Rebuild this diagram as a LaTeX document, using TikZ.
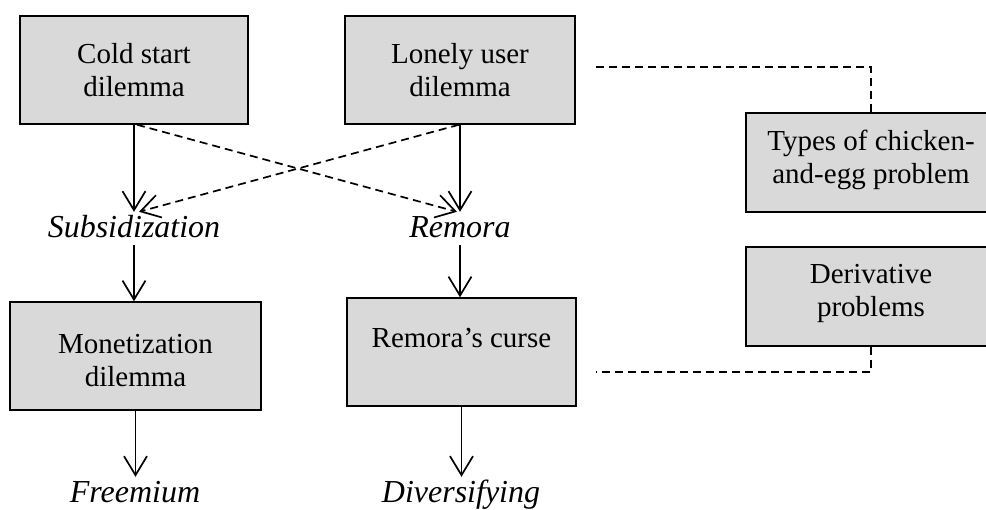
\documentclass[tikz,border=0pt]{standalone}
\usepackage{fontspec}
\setmainfont{Liberation Serif}
\usetikzlibrary{arrows.meta,calc}
\definecolor{boxgray}{HTML}{D9D9D9}
\tikzset{
  box/.style={draw=black, fill=boxgray, line width=1.5pt, inner sep=0pt, align=center,
    font=\fontsize{29}{32.5}\selectfont},
  boxtext/.style={inner sep=0pt, align=center, font=\fontsize{29}{32.5}\selectfont},
  lbl/.style={inner sep=0pt, anchor=base, text height=26pt, text depth=7pt,
    font=\fontsize{32}{38}\selectfont\itshape},
  arr/.style={line width=1.7pt, -{Straight Barb[length=19pt,width=23pt,line width=1.7pt]}},
  dashln/.style={line width=1.7pt, dash pattern=on 8pt off 5pt},
}
\begin{document}
\begin{tikzpicture}[x=1pt,y=-1pt]
\useasboundingbox (0,0) rectangle (986,510);
% boxes
\node[box, minimum width=228pt, minimum height=108pt] (cold) at (134,70) {Cold start\\dilemma};
\node[box, minimum width=230pt, minimum height=108pt] (lonely) at (460,70) {Lonely user\\dilemma};
\node[box, minimum width=251pt, minimum height=108pt] (money) at (135.5,356) {};
\node[boxtext] (moneyt) at ([yshift=-4.5pt]money.center) {Monetization\\dilemma};
\node[box, minimum width=229pt, minimum height=108pt] (curse) at (461.5,352) {};
\node[boxtext, anchor=base] (curset) at ([yshift=4pt]curse.center) {Remora’s curse};
\node[box, minimum width=250pt, minimum height=99pt] (types) at (871,162.5) {};
\node[boxtext] (typest) at ([yshift=2.5pt]types.center) {Types of chicken-\\and-egg problem};
\node[box, minimum width=250pt, minimum height=99pt] (deriv) at (871,296.5) {};
\node[boxtext] (derivt) at ([yshift=3pt]deriv.center) {Derivative\\problems};
% labels
\node[lbl] (subs) at (134,238) {Subsidization};
\node[lbl] (remora) at (460,238) {Remora};
\node[lbl] (free) at (135,503) {Freemium};
\node[lbl] (divers) at (461,503) {Diversifying};
% solid arrows
\draw[arr] (cold.south) -- (subs.north);
\draw[arr] (lonely.south) -- (remora.north);
\draw[arr] (subs.south) -- (subs.south |- money.north);
\draw[arr] (remora.south) -- (remora.south |- curse.north);
\draw[arr] (money.south) -- (money.south |- free.north);
\draw[arr] (curse.south) -- (curse.south |- divers.north);
% dashed crossing arrows
\draw[arr, dashln] ($(cold.south)+(3pt,0pt)$) -- ($(remora.north)+(-3pt,0pt)$);
\draw[arr, dashln] ($(lonely.south)+(-1pt,0pt)$) -- ($(subs.north)+(5pt,0pt)$);
% right dashed connectors
\coordinate (tl) at (596,67);
\coordinate (bl) at (596,372);
\draw[dashln] (tl) -| (types.north);
\draw[dashln] (deriv.south) |- (bl);
\end{tikzpicture}
\end{document}
